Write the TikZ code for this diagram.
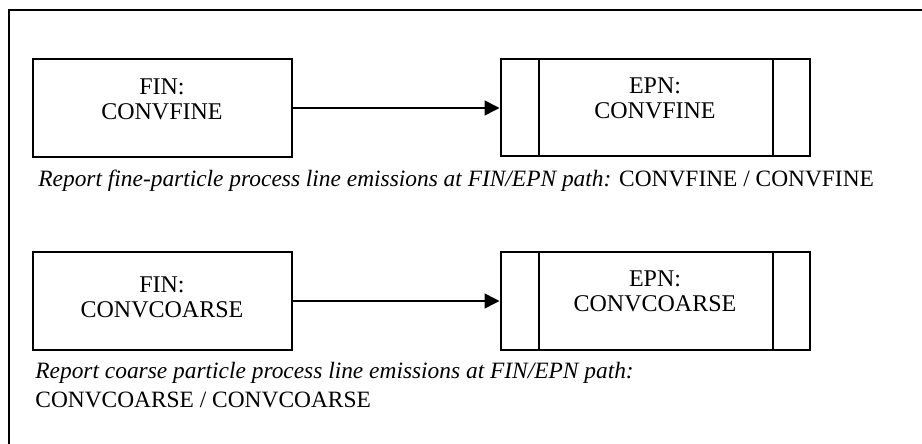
\documentclass[tikz,border=0pt]{standalone}
\usepackage{fontspec}
\setmainfont{Liberation Serif}
\usetikzlibrary{positioning,calc,arrows.meta}

\begin{document}
\begin{tikzpicture}[x=0.5pt,y=-0.5pt]
  \tikzset{
    finbox/.style={draw, line width=1pt, minimum width=129.5pt, minimum height=49pt, inner sep=0pt},
    epnbox/.style={draw, line width=1pt, minimum width=154.5pt, minimum height=48.5pt, inner sep=0pt},
    boxtext/.style={align=center, inner sep=0pt, font=\fontsize{12}{12.5}\selectfont},
    note/.style={align=left, anchor=base west, inner sep=0pt, font=\fontsize{11.7}{14.5}\selectfont},
    flow/.style={line width=0.8pt, -{Triangle[length=7.5pt,width=7.5pt]}}
  }

  \useasboundingbox (0,0) rectangle (922,444);

  %frame
  \draw[line width=1pt] (9,10) rectangle (940,460);

  %boxes, one row each
  \foreach \r/\y/\ty/\ey/\name in {1/108/99/98/CONVFINE, 2/301/297/291/CONVCOARSE}{
    \node[finbox] (fin\r) at (162,\y) {};
    \node[epnbox] (epn\r) at (655,\y) {};
    \draw[line width=1pt] ($(epn\r.north west)+(39,0)$) -- ($(epn\r.south west)+(39,0)$);
    \draw[line width=1pt] ($(epn\r.north east)+(-38,0)$) -- ($(epn\r.south east)+(-38,0)$);
    \node[boxtext] (fint\r) at (162,\ty) {FIN:\\\name};
    \node[boxtext] (epnt\r) at (655,\ey) {EPN:\\\name};
    \draw[flow] (fin\r.east) -- (epn\r.west);
  }

  %captions (base = last line)
  \node[note] (cap1) at (38,187) {\textit{Report fine-particle process line emissions at FIN/EPN path:} CONVFINE / CONVFINE};
  \node[note] (cap2) at (35,407) {\textit{Report coarse particle process line emissions at FIN/EPN path:}\\CONVCOARSE / CONVCOARSE};

\end{tikzpicture}
\end{document}
